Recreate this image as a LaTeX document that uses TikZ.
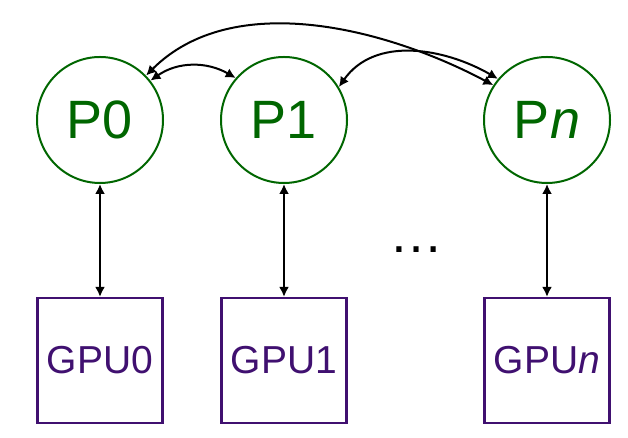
\documentclass[tikz,border=0pt]{standalone}
\usepackage{fontspec}
\setmainfont{Liberation Sans}
\usepackage{xcolor}
\usepackage{tikz}
\usetikzlibrary{arrows.meta}
\definecolor{procgreen}{RGB}{0,102,0}
\definecolor{gpupurple}{RGB}{64,16,112}
\tikzset{
	proc/.style={circle, draw=procgreen, text=procgreen, line width=2pt, minimum size=126pt, inner sep=0pt, font=\fontsize{54}{60}\selectfont},
	gpubox/.style={rectangle, draw=gpupurple, text=gpupurple, line width=2.2pt, minimum width=125pt, minimum height=125pt, inner sep=0pt, font=\fontsize{39}{45}\selectfont},
	link/.style={<->, line width=2pt}
}

\begin{document}
\begin{tikzpicture}[x=1pt, y=1pt, >={Latex[length=10pt,width=10pt]}]
			\useasboundingbox (0,0) rectangle (628,438);
			%processes
			\node at (100,318) (p0) [proc] {P0};
			\node at (284,318) (p1) [proc] {P1};
			\node at (547,318) (pn) [proc] {P\textit{n}};
			%gpus
			\node at (100,77.5) (gpu0) [gpubox] {GPU0};
			\node at (284,77.5) (gpu1) [gpubox] {GPU1};
			\node at (547,77.5) (gpun) [gpubox] {GPU\textit{n}};
			%dots
			\node at (416,188) (dots) [inner sep=0pt, font=\fontsize{54}{60}\selectfont] {…};

			%process to gpu
			\draw [link] (p0.south) -- (gpu0.north);
			\draw [link] (p1.south) -- (gpu1.north);
			\draw [link] (pn.south) -- (gpun.north);

			%process to process
			\draw [link] (p0.38) to[out=35, in=150] (p1.139);
			\draw [link] (p1.31) to[out=55, in=150] (pn.140);
			\draw [link] (p0.44) to[out=45, in=152, looseness=0.9] (pn.147);
		\end{tikzpicture}
\end{document}
